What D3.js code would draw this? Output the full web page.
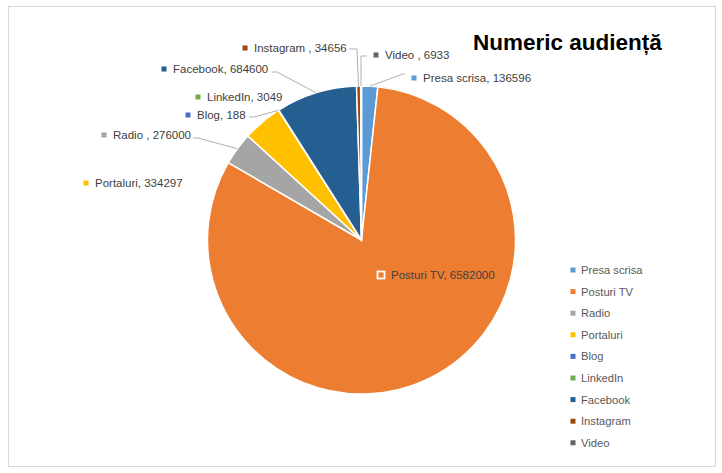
<!DOCTYPE html>
<html>
<head>
<meta charset="utf-8">
<script src="https://cdn.jsdelivr.net/npm/d3@7"></script>
<style>
  body { margin: 0; background: #fff; }
  text { font-family: "Liberation Sans", Arial, sans-serif; }
</style>
</head>
<body>
<div id="chart"></div>
<script>
// chart data
const categories = ["Presa scrisa", "Posturi TV", "Radio", "Portaluri", "Blog", "LinkedIn", "Facebook", "Instagram", "Video"]
const values = [136596, 6582000, 276000, 334297, 188, 3049, 684600, 34656, 6933]
const labelTexts = ["Presa scrisa, 136596", "Posturi TV, 6582000", "Radio , 276000", "Portaluri, 334297", "Blog, 188", "LinkedIn, 3049", "Facebook, 684600", "Instagram , 34656", "Video , 6933"]
const colors = ["#5B9BD5", "#ED7D31", "#A5A5A5", "#FFC000", "#4472C4", "#70AD47", "#255E91", "#9E480E", "#636363"]
const title = "Numeric audiență"

let width = 722
let height = 473
let cx = 361.5, cy = 240, radius = 154

// where Excel put each data label (marker centre) and its leader start / elbow
const labelLayout = [
    { x: 414, y: 78, lead: [405, 74, 403, 74] },
    { x: 381, y: 275, lead: null, inside: true },
    { x: 104, y: 135, lead: [193, 138, 198, 138] },
    { x: 86, y: 183, lead: null },
    { x: 188, y: 115, lead: [249, 117, 254, 117] },
    { x: 198, y: 97, lead: null },
    { x: 164, y: 69, lead: [272, 72, 277, 72] },
    { x: 245, y: 48, lead: [349, 49, 357, 49] },
    { x: 376, y: 55, lead: [367, 56, 361, 56] }
]

const svg = d3.select("#chart")
    .append("svg")
    .attr("width", width)
    .attr("height", height)

// chart border
svg.append("rect")
    .attr("x", 8.5).attr("y", 6.5)
    .attr("width", 707).attr("height", 460)
    .attr("fill", "#fff")
    .attr("stroke", "#d9d9d9")
    .attr("stroke-width", 1)

svg.append("text")
    .attr("x", 473).attr("y", 50)
    .attr("font-size", 22.5)
    .attr("font-weight", "bold")
    .attr("fill", "#000")
    .text(title)

const pie = d3.pie().sort(null).value(d => d)
const arcs = pie(values)
const arc = d3.arc().innerRadius(0).outerRadius(radius)

const g = svg.append("g").attr("transform", "translate(" + cx + "," + cy + ")")

g.selectAll(".slice")
    .data(arcs)
    .enter()
    .append("path")
    .attr("d", arc)
    .attr("fill", (d, i) => colors[i])
    .attr("stroke", "#fff")
    .attr("stroke-width", 1.5)

// leader lines
arcs.forEach((d, i) => {
    const l = labelLayout[i].lead
    if (!l) return
    const mid = (d.startAngle + d.endAngle) / 2
    const px = cx + radius * Math.sin(mid)
    const py = cy - radius * Math.cos(mid)
    svg.append("polyline")
        .attr("points", [[l[0], l[1]], [l[2], l[3]], [px, py]].map(p => p.join(",")).join(" "))
        .attr("fill", "none")
        .attr("stroke", "#a6a6a6")
        .attr("stroke-width", 0.9)
})

// data labels
labelLayout.forEach((p, i) => {
    if (p.inside) {
        svg.append("rect")
            .attr("x", p.x - 3.5).attr("y", p.y - 3.5)
            .attr("width", 7).attr("height", 7)
            .attr("fill", colors[i])
            .attr("stroke", "#fff")
            .attr("stroke-width", 1.8)
    } else {
        svg.append("rect")
            .attr("x", p.x - 2.5).attr("y", p.y - 2.5)
            .attr("width", 5).attr("height", 5)
            .attr("fill", colors[i])
    }
    svg.append("text")
        .attr("x", p.x + (p.inside ? 10 : 9))
        .attr("y", p.y + 4)
        .attr("font-size", 11.5)
        .attr("fill", "#404040")
        .text(labelTexts[i])
})

// legend
const legend = svg.append("g")
categories.forEach((c, i) => {
    const y = 270 + i * 21.6
    legend.append("rect")
        .attr("x", 573 - 2.5).attr("y", y - 2.5)
        .attr("width", 5).attr("height", 5)
        .attr("fill", colors[i])
    legend.append("text")
        .attr("x", 581).attr("y", y + 4)
        .attr("font-size", 11.2)
        .attr("fill", "#595959")
        .text(c)
})
</script>
</body>
</html>
